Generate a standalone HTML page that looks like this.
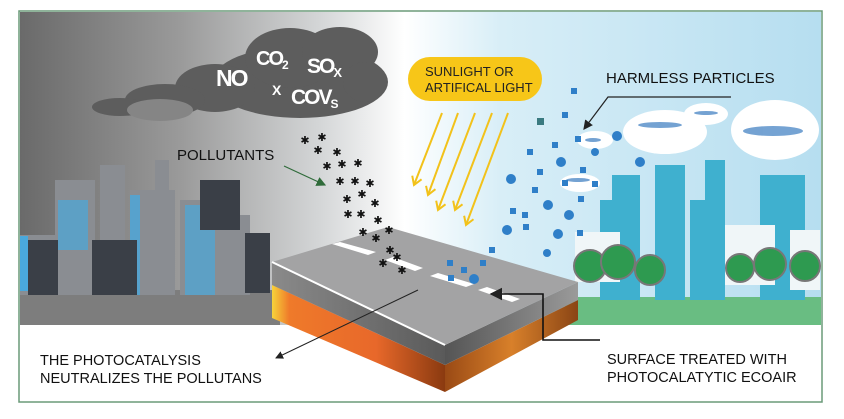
<!DOCTYPE html>
<html><head><meta charset="utf-8"><style>
html,body{margin:0;padding:0;background:#fff;}
svg{display:block;font-family:"Liberation Sans",Arial,sans-serif;}
</style></head><body>
<svg width="844" height="419" viewBox="0 0 844 419" xmlns="http://www.w3.org/2000/svg">
<defs>
<linearGradient id="bg" x1="0" x2="1" y1="0" y2="0">
<stop offset="0" stop-color="#6a6a6a"/><stop offset="0.2" stop-color="#9a9a9a"/><stop offset="0.38" stop-color="#d6d8d9"/><stop offset="0.48" stop-color="#ffffff"/><stop offset="0.6" stop-color="#d8eef7"/><stop offset="1" stop-color="#b6def0"/>
</linearGradient>
<linearGradient id="or" x1="0" x2="1" y1="0" y2="0">
<stop offset="0" stop-color="#f7d33a"/><stop offset="0.1" stop-color="#ef7a2a"/><stop offset="0.6" stop-color="#e8682a"/><stop offset="1" stop-color="#8a3a10"/>
</linearGradient>
<linearGradient id="or2" x1="0" x2="1"><stop offset="0" stop-color="#9a4a15"/><stop offset="0.5" stop-color="#d8802a"/><stop offset="1" stop-color="#8a4515"/></linearGradient>
<linearGradient id="gs" x1="0" x2="1"><stop offset="0" stop-color="#8a8a8a"/><stop offset="1" stop-color="#5a5a5a"/></linearGradient>
<linearGradient id="gs2" x1="0" x2="1"><stop offset="0" stop-color="#555"/><stop offset="1" stop-color="#9a9a9a"/></linearGradient>
<marker id="ah" markerWidth="8" markerHeight="8" refX="7" refY="4" orient="auto"><path d="M0,0 L8,4 L0,8z" fill="#222"/></marker>
<marker id="ag" markerWidth="8" markerHeight="8" refX="7" refY="4" orient="auto"><path d="M0,0 L8,4 L0,8z" fill="#2f6b3a"/></marker>
<marker id="ay" markerWidth="12" markerHeight="12" refX="9" refY="6" orient="auto" markerUnits="userSpaceOnUse"><path d="M1,1 L9,6 L1,11" fill="none" stroke="#f2c21a" stroke-width="2"/></marker>
</defs>
<rect x="19" y="11" width="803" height="391" fill="#fff" stroke="#6a9a78" stroke-width="1.5"/>
<rect x="20" y="12" width="801" height="313" fill="url(#bg)"/>
<rect x="20" y="290" width="260" height="35" fill="#7d7d7d"/>
<rect x="565" y="297" width="256" height="28" fill="#69bd82"/>
<!-- left city -->
<g fill="#8a8d92">
<rect x="20" y="235" width="60" height="60"/><rect x="55" y="180" width="40" height="115"/><rect x="100" y="165" width="25" height="130"/><rect x="130" y="190" width="45" height="105"/><rect x="180" y="200" width="40" height="95"/><rect x="220" y="215" width="30" height="80"/><rect x="155" y="160" width="14" height="40"/>
</g>
<g fill="#4aa8dc"><rect x="20" y="236" width="8" height="55"/><rect x="58" y="200" width="30" height="50" opacity=".7"/><rect x="130" y="195" width="10" height="100" opacity=".8"/><rect x="185" y="205" width="30" height="90" opacity=".7"/></g>
<g fill="#3a3f47"><rect x="28" y="240" width="30" height="55"/><rect x="92" y="240" width="45" height="55"/><rect x="200" y="180" width="40" height="50"/><rect x="245" y="233" width="25" height="60"/></g>
<!-- right city -->
<g fill="#3fb0cf">
<rect x="612" y="175" width="28" height="125"/><rect x="655" y="165" width="30" height="135"/><rect x="705" y="160" width="20" height="140"/><rect x="760" y="175" width="45" height="125"/><rect x="600" y="200" width="20" height="100"/><rect x="690" y="200" width="20" height="100"/>
</g>
<g fill="#f0f6f8"><rect x="575" y="232" width="45" height="50"/><rect x="725" y="225" width="50" height="60"/><rect x="790" y="230" width="30" height="60"/></g>
<g fill="#2e9a50" stroke="#777" stroke-width="2">
<circle cx="590" cy="266" r="16"/><circle cx="618" cy="262" r="17"/><circle cx="650" cy="270" r="15"/><circle cx="740" cy="268" r="14"/><circle cx="770" cy="264" r="16"/><circle cx="805" cy="266" r="15"/>
</g>
<g fill="#fff"><ellipse cx="665" cy="132" rx="42" ry="22"/><ellipse cx="706" cy="114" rx="22" ry="11"/><ellipse cx="775" cy="130" rx="44" ry="30"/><ellipse cx="595" cy="140" rx="18" ry="9"/><ellipse cx="580" cy="183" rx="20" ry="9"/></g>
<g fill="#3a7cc0" opacity=".7"><ellipse cx="660" cy="125" rx="22" ry="3"/><ellipse cx="706" cy="113" rx="12" ry="2"/><ellipse cx="773" cy="131" rx="30" ry="5"/><ellipse cx="593" cy="140" rx="8" ry="2"/><ellipse cx="578" cy="180" rx="12" ry="2"/></g>
<!-- dark cloud -->
<g fill="#5d5d5d">
<ellipse cx="300" cy="82" rx="88" ry="36"/><ellipse cx="290" cy="58" rx="45" ry="30"/><ellipse cx="340" cy="52" rx="38" ry="25"/><ellipse cx="365" cy="82" rx="22" ry="20"/><ellipse cx="215" cy="88" rx="40" ry="24"/><ellipse cx="165" cy="100" rx="40" ry="16"/><ellipse cx="120" cy="107" rx="28" ry="9"/>
</g>
<ellipse cx="160" cy="110" rx="33" ry="11" fill="#858585"/>
<g fill="#fff" font-weight="bold" style="letter-spacing:-2px">
<text x="216" y="86" font-size="23">NO</text>
<text x="256" y="65" font-size="20">CO<tspan font-size="12" dy="4">2</tspan></text>
<text x="307" y="73" font-size="21">SO<tspan font-size="13" dy="4">X</tspan></text>
<text x="272" y="95" font-size="14">X</text>
<text x="291" y="104" font-size="21">COV<tspan font-size="12" dy="4">S</tspan></text>
</g>
<rect x="408" y="57" width="134" height="44" rx="22" fill="#f7c618"/>
<text x="425" y="76" font-size="13" fill="#222">SUNLIGHT OR</text>
<text x="425" y="92" font-size="13" fill="#222">ARTIFICAL LIGHT</text>
<g stroke="#f2c21a" stroke-width="2" fill="none" marker-end="url(#ay)">
<line x1="442" y1="113" x2="414" y2="185"/><line x1="458" y1="113" x2="428" y2="195"/><line x1="475" y1="113" x2="438" y2="210"/><line x1="492" y1="113" x2="455" y2="210"/><line x1="508" y1="113" x2="466" y2="225"/>
</g>
<!-- slab -->
<polygon points="272,285 445,365 445,392 272,318" fill="url(#or)"/>
<polygon points="445,365 578,300 578,320 445,392" fill="url(#or2)"/>
<polygon points="272,262 445,345 445,365 272,285" fill="url(#gs)"/>
<polygon points="445,345 578,282 578,300 445,365" fill="url(#gs2)"/>
<polygon points="272,262 388,227 578,282 445,345" fill="#a3a3a4"/>
<line x1="272" y1="262" x2="445" y2="345" stroke="#fff" stroke-width="2"/>
<g fill="#fff">
<polygon points="332,244 340,242 376,252 368,255"/><polygon points="385,260 393,257 423,268 415,271"/><polygon points="430,276 438,273 474,284 466,287"/><polygon points="478,290 487,287 520,299 512,302"/>
</g>
<!-- pollutants -->
<g fill="#111" font-size="11" font-family="DejaVu Sans" text-anchor="middle">
<text x="305" y="144">✱</text><text x="322" y="141">✱</text><text x="318" y="154">✱</text><text x="337" y="156">✱</text><text x="327" y="170">✱</text><text x="342" y="168">✱</text><text x="358" y="167">✱</text><text x="340" y="185">✱</text><text x="355" y="185">✱</text><text x="370" y="187">✱</text><text x="347" y="203">✱</text><text x="362" y="198">✱</text><text x="375" y="207">✱</text><text x="348" y="218">✱</text><text x="361" y="218">✱</text><text x="378" y="224">✱</text><text x="363" y="236">✱</text><text x="389" y="234">✱</text><text x="376" y="242">✱</text><text x="390" y="254">✱</text><text x="383" y="267">✱</text><text x="402" y="274">✱</text><text x="397" y="261">✱</text>
</g>
<g fill="#2f7fc8">
<rect x="571" y="88" width="6" height="6"/><rect x="562" y="112" width="6" height="6"/><rect x="537" y="118" width="7" height="7" fill="#3a7a80"/><rect x="575" y="136" width="6" height="6"/><rect x="552" y="142" width="6" height="6"/><rect x="527" y="149" width="6" height="6"/><rect x="537" y="169" width="6" height="6"/><rect x="580" y="167" width="6" height="6"/><rect x="562" y="180" width="6" height="6"/><rect x="592" y="181" width="6" height="6"/><rect x="532" y="187" width="6" height="6"/><rect x="578" y="196" width="6" height="6"/><rect x="510" y="208" width="6" height="6"/><rect x="522" y="212" width="6" height="6"/><rect x="523" y="224" width="6" height="6"/><rect x="577" y="230" width="6" height="6"/><rect x="489" y="247" width="6" height="6"/><rect x="447" y="260" width="6" height="6"/><rect x="461" y="267" width="6" height="6"/><rect x="480" y="260" width="6" height="6"/><rect x="448" y="275" width="6" height="6"/>
<circle cx="617" cy="136" r="5"/><circle cx="595" cy="152" r="4"/><circle cx="561" cy="162" r="5"/><circle cx="640" cy="162" r="5"/><circle cx="511" cy="179" r="5"/><circle cx="548" cy="205" r="5"/><circle cx="569" cy="215" r="5"/><circle cx="507" cy="230" r="5"/><circle cx="558" cy="234" r="5"/><circle cx="547" cy="253" r="4"/><circle cx="474" cy="279" r="5"/>
</g>
<text x="177" y="160" font-size="15" fill="#111">POLLUTANTS</text>
<line x1="284" y1="166" x2="325" y2="185" stroke="#2f6b3a" stroke-width="1.2" marker-end="url(#ag)"/>
<text x="606" y="83" font-size="15" fill="#111">HARMLESS PARTICLES</text>
<polyline points="731,97 608,97 584,129" fill="none" stroke="#222" stroke-width="1.2" marker-end="url(#ah)"/>
<line x1="418" y1="290" x2="276" y2="358" stroke="#222" stroke-width="1" marker-end="url(#ah)"/>
<polyline points="600,340 543,340 543,294 491,294" fill="none" stroke="#111" stroke-width="1.6" marker-end="url(#ah)"/>
<text x="40" y="365" font-size="14.5" fill="#111">THE PHOTOCATALYSIS</text>
<text x="40" y="383" font-size="14.5" fill="#111">NEUTRALIZES THE POLLUTANS</text>
<text x="607" y="364" font-size="14.5" fill="#111">SURFACE TREATED WITH</text>
<text x="607" y="382" font-size="14.5" fill="#111">PHOTOCALATYTIC ECOAIR</text>
</svg>
</body></html>
